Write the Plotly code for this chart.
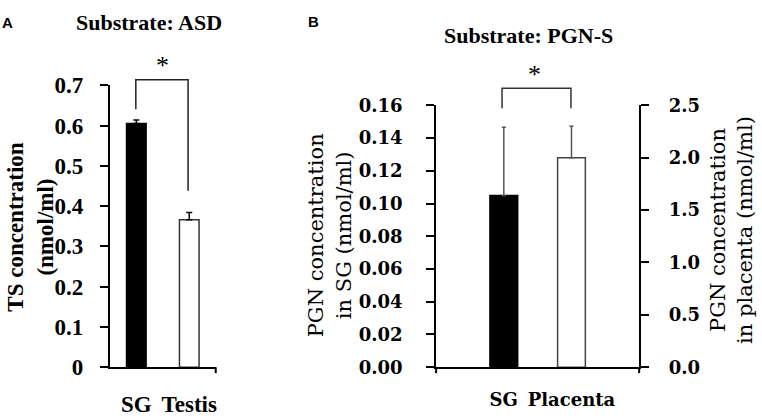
import plotly.graph_objects as go

# Panel A - substrate ASD, TS concentration
a_groups = ["SG", "Testis"]
a_values = [0.605, 0.366]
a_errors = [0.009, 0.018]

# Panel B - substrate PGN-S, SG on left axis, placenta on right axis
b_groups = ["SG", "Placenta"]
b_sg_value = [0.105]
b_sg_error = [0.0416]
b_pl_value = [2.0]
b_pl_error = [0.30]

W, H = 762, 420
SERIF = "Liberation Serif"
SERIF_B = "DejaVu Serif"


def px(x, y):
    # pixel position -> paper coords
    return x / W, 1 - y / H


fig = go.Figure()

fig.add_bar(
    x=a_groups, y=a_values, xaxis="x", yaxis="y",
    marker=dict(color=["black", "white"], line=dict(color=["black", "#333333"], width=1.5)),
    width=0.37,
    error_y=dict(type="data", array=a_errors, arrayminus=[0, 0], symmetric=False,
                 color="black", thickness=1.5, width=3),
    showlegend=False,
)

fig.add_bar(
    x=b_groups[:1], y=b_sg_value, xaxis="x2", yaxis="y2",
    marker=dict(color="black", line=dict(color="black", width=1.5)),
    width=0.41,
    error_y=dict(type="data", array=b_sg_error, arrayminus=[0], symmetric=False,
                 color="#555555", thickness=1.5, width=2),
    showlegend=False,
)
fig.add_bar(
    x=b_groups[1:], y=b_pl_value, xaxis="x2", yaxis="y3",
    marker=dict(color="white", line=dict(color="#444444", width=1.5)),
    width=0.41,
    error_y=dict(type="data", array=b_pl_error, arrayminus=[0], symmetric=False,
                 color="#555555", thickness=1.5, width=2),
    showlegend=False,
)

axis_common = dict(showgrid=False, zeroline=False, showline=True,
                   linecolor="black", linewidth=2)

fig.update_layout(
    width=W, height=H,
    margin=dict(l=0, r=0, t=0, b=0),
    paper_bgcolor="white", plot_bgcolor="white",
    barmode="overlay",
    xaxis=dict(**axis_common, domain=[110 / W, 216 / W], anchor="y",
               type="category", categoryorder="array", categoryarray=a_groups,
               range=[-0.5, 1.5], ticks="", ticklabelstandoff=15,
               tickfont=dict(family=SERIF, size=23, color="black", weight="bold")),
    yaxis=dict(**axis_common, domain=[1 - 377.7 / H, 1 - 78 / H], anchor="x",
               range=[0, 0.7], dtick=0.1, ticks="outside", ticklen=8, tickwidth=2,
               tickcolor="black", ticklabelstandoff=12,
               tickfont=dict(family=SERIF, size=23, color="black", weight="bold")),
    xaxis2=dict(**axis_common, domain=[436.7 / W, 640 / W], anchor="y2",
                type="category", categoryorder="array", categoryarray=b_groups,
                range=[-1, 2], ticks="", ticklabelstandoff=15,
                tickfont=dict(family=SERIF_B, size=18, color="black", weight="bold")),
    yaxis2=dict(**axis_common, domain=[1 - 377.7 / H, 1 - 99.3 / H], anchor="x2",
                range=[0, 0.16], dtick=0.02, tickformat=".2f", ticks="outside",
                ticklen=8, tickwidth=2, tickcolor="black", ticklabelstandoff=20,
                tickfont=dict(family=SERIF_B, size=18, color="black", weight="bold")),
    yaxis3=dict(**axis_common, domain=[1 - 377.7 / H, 1 - 99.3 / H], anchor="x2",
                overlaying="y2", side="right",
                range=[0, 2.5], dtick=0.5, tickformat=".1f", ticks="outside",
                ticklen=8, tickwidth=2, tickcolor="black", ticklabelstandoff=16,
                tickfont=dict(family=SERIF_B, size=18, color="black", weight="bold")),
)


def label(text, x, y, size, family=SERIF, bold=True, angle=0, color="black"):
    xp, yp = px(x, y)
    fig.add_annotation(
        text=text, x=xp, y=yp, xref="paper", yref="paper",
        xanchor="center", yanchor="middle", showarrow=False, textangle=angle,
        font=dict(family=family, size=size, color=color,
                  weight="bold" if bold else "normal"),
    )


def seg(x0, y0, x1, y1, color="black", width=1.5):
    (a, b), (c, d) = px(x0, y0), px(x1, y1)
    fig.add_shape(type="line", x0=a, y0=b, x1=c, y1=d, xref="paper", yref="paper",
                  line=dict(color=color, width=width))


# panel letters and titles
label("A", 8, 11, 15, family="Liberation Sans")
label("B", 313.5, 10, 15, family="Liberation Sans")
label("Substrate: ASD", 149, 11, 22)
label("Substrate: PGN-S", 529.5, 25, 22)

# axis titles
label("TS concentration<br>(nmol/ml)", 30.3, 228, 23, angle=-90)
label("PGN concentration<br>in SG (nmol/ml)", 330.8, 237, 21, family=SERIF_B, bold=False, angle=-90)
label("PGN concentration<br>in placenta (nmol/ml)", 731.7, 232, 21, family=SERIF_B, bold=False, angle=-90)

# end ticks on the category axes
seg(216, 377.7, 216, 384, width=2)
seg(436.7, 377.7, 436.7, 384, width=2)
seg(640, 377.7, 640, 384, width=2)


# significance brackets
def bracket(x0, x1, y_top, y_left, y_right, color):
    p = [px(x0, y_left), px(x0, y_top), px(x1, y_top), px(x1, y_right)]
    path = "M {} {} L {} {} L {} {} L {} {}".format(*[c for pt in p for c in pt])
    fig.add_shape(type="path", path=path, xref="paper", yref="paper",
                  line=dict(color=color, width=1.5))


bracket(136, 188.3, 72, 103.3, 190, "#222222")
label("*", 162.7, 57, 26, bold=False)
bracket(502.7, 571.7, 81, 102.3, 102.3, "#333333")
label("*", 535.7, 66, 26, bold=False)

# drop the default page margin so the figure sits at the window corner
fig.write_html("out.html", config={"displayModeBar": False},
               post_script="document.body.style.margin='0';")
